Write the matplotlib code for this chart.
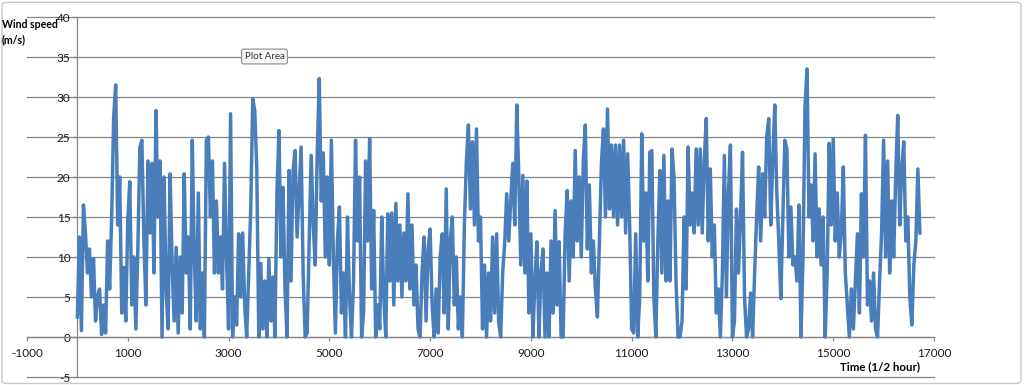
import numpy as np
import matplotlib
matplotlib.use('Agg')
import matplotlib.pyplot as plt
from matplotlib.patches import FancyBboxPatch

# Wind speed (m/s), one value every 40 half-hours
sample_step = 40
seg1 = [2.5, 12.5, 0.8, 16.5, 13, 8, 11, 5, 9.8, 2,
        5, 6, 0.3, 4, 0.5, 12, 6, 15, 27.5, 31.5,
        14, 20, 3, 8.7, 2, 14.6, 19.4, 4, 10, 1,
        11, 23.7, 24.6, 12, 4, 22, 13, 21.7, 8, 28.3,
        15, 22, 0, 20, 6, 1, 20.4, 9, 2, 11.2,
        0.5, 10, 3, 20.4, 8, 12.5, 1, 24.6, 10, 2,
        18, 1, 8, 0, 24.6, 25, 15, 22, 8, 17]
seg2 = [8, 12.5, 6, 21.7, 10, 1, 27.9, 0, 5, 1.5,
        12.9, 5, 13, 4, 0, 8, 16, 29.8, 28.3, 21,
        0, 9.2, 1, 7, 0, 9.8, 2, 7.5, 0, 18,
        25.8, 10, 18.7, 6, 0, 20.8, 7, 20.8, 23.3, 12.5,
        18, 23.75, 8, 0, 0.5, 12, 22.7, 14, 9, 23,
        32.3, 17, 23, 10, 20, 9, 24.6, 10, 0.5, 12,
        16.25, 3, 8, 0, 15, 5, 0, 7, 24.6]
seg3 = [12, 20, 0, 3, 22, 12, 24.8, 6, 15.8, 0,
        4, 1, 15, 5, 0, 15.4, 7, 15.5, 4, 16.7,
        7, 14, 5, 13, 7, 17.9, 6, 14, 4, 9,
        1, 0, 8, 12.5, 2, 11, 13.5, 4, 0, 6,
        0.5, 10, 12.9, 3, 18.5, 1, 12, 15, 4, 10,
        1, 5, 0, 14, 22, 26.5, 16, 24.4, 14, 26,
        12, 15, 1, 9, 0, 8, 2, 12.5, 3]
seg4 = [12.9, 2, 0, 8, 11.7, 17.9, 12, 17, 21.7, 14,
        29, 20, 9, 20.2, 8, 19.5, 3, 12.9, 0, 7,
        11.9, 0, 8, 11, 0, 8, 0, 12, 3, 15.8,
        4, 11.9, 0, 0, 13, 18.3, 7, 17, 10, 23.3,
        12, 20, 10, 22, 26.5, 11, 19, 8, 12, 6,
        2.5, 12, 21.7, 26, 15, 28.5, 16, 24, 15, 24,
        14, 24, 15, 24.6, 13, 22.9, 14, 1, 0.5, 12.9]
seg5 = [0, 5, 25.4, 12, 18, 7, 23.1, 23.3, 5, 0,
        12, 20.8, 8, 22.7, 7, 17, 7, 23.5, 20, 7,
        0, 0, 2, 15, 6, 23.75, 14, 18, 13, 23.5,
        14, 23.5, 13, 22, 27.3, 12, 21, 10, 14, 3,
        6, 0, 8, 22.7, 5, 18, 24, 0, 2, 16,
        8, 15, 23.1, 5, 0, 1, 5.5, 0, 8, 15,
        21.25, 12, 20.4, 15, 25, 27.3, 14, 22, 29]
seg6 = [18, 12, 4.8, 15, 24.6, 23.5, 10, 16.25, 9, 10,
        7, 16.5, 0, 10, 28.75, 33.5, 15, 19, 12, 22.9,
        10, 16, 9, 15, 0, 8, 24.2, 14, 24.8, 12,
        18, 10, 13, 21.25, 8, 4, 0, 6, 1, 7,
        12.9, 3, 17.9, 10, 25.2, 4, 7, 2, 8, 1,
        0, 7, 13, 24.6, 10, 22, 8, 17, 10, 20,
        27.7, 14, 21, 24.4, 12, 15, 5, 1.5, 9, 12,
        21, 13]
wind_speed = np.array(seg1 + seg2 + seg3 + seg4 + seg5 + seg6, dtype=float)
time_half_hours = np.arange(len(wind_speed)) * sample_step

x_ticks = [-1000, 1000, 3000, 5000, 7000, 9000, 11000, 13000, 15000, 17000]
y_ticks = [-5, 0, 5, 10, 15, 20, 25, 30, 35, 40]

FONT = ['Lato', 'DejaVu Sans']
plt.rcParams['font.family'] = FONT

fig = plt.figure(figsize=(10.24, 3.85), dpi=100)
ax = fig.add_axes([27 / 1024, 8 / 385, 907 / 1024, 360 / 385])

ax.plot(time_half_hours, wind_speed, color='#4A7EBB', lw=2.5, zorder=3)

ax.set_xlim(-1000, 17000)
ax.set_ylim(-5, 40)
ax.set_xticks(x_ticks)
ax.set_yticks(y_ticks)
ax.set_xticklabels([str(v) for v in x_ticks])
ax.set_yticklabels([str(v) for v in y_ticks])

for s in ['top', 'right']:
    ax.spines[s].set_visible(False)
ax.spines['left'].set_position(('data', 0))
ax.spines['bottom'].set_position(('data', 0))
for s in ['left', 'bottom']:
    ax.spines[s].set_color('#868686')
    ax.spines[s].set_linewidth(0.9)

ax.yaxis.grid(True, color='#868686', lw=0.9)
for gl in ax.get_ygridlines():
    gl.set_clip_on(False)
ax.xaxis.grid(False)
ax.set_axisbelow(True)
ax.tick_params(axis='both', direction='out', length=3, width=0.9, color='#868686',
               labelsize=8.5, labelcolor='#1a1a1a')
ax.tick_params(axis='y', pad=2)
ax.tick_params(axis='x', pad=5)
ax.patch.set_alpha(0)

fig.text(2 / 1024, 1 - 19 / 385, 'Wind speed\n(m/s)', ha='left', va='top',
         fontsize=7.6, fontweight='bold', color='#000000', linespacing=1.45)
fig.text(880 / 1024, 1 - 367 / 385, 'Time (1/2 hour)', ha='center', va='center',
         fontsize=8.3, fontweight='bold', color='#000000')
fig.text(264.5 / 1024, 1 - 56.5 / 385, 'Plot Area', ha='center', va='center',
         fontsize=7, color='#333333',
         bbox=dict(boxstyle='round,pad=0.3,rounding_size=0.2', fc='#F8F8F8',
                   ec='#8C8C8C', lw=0.8))

border = FancyBboxPatch((0.002, 0.004), 0.995, 0.99,
                        boxstyle='round,pad=0,rounding_size=0.006',
                        transform=fig.transFigure, ec='#C8C8C8', fc='none', lw=1.0)
fig.patches.append(border)

fig.savefig('out.png', dpi=100)
